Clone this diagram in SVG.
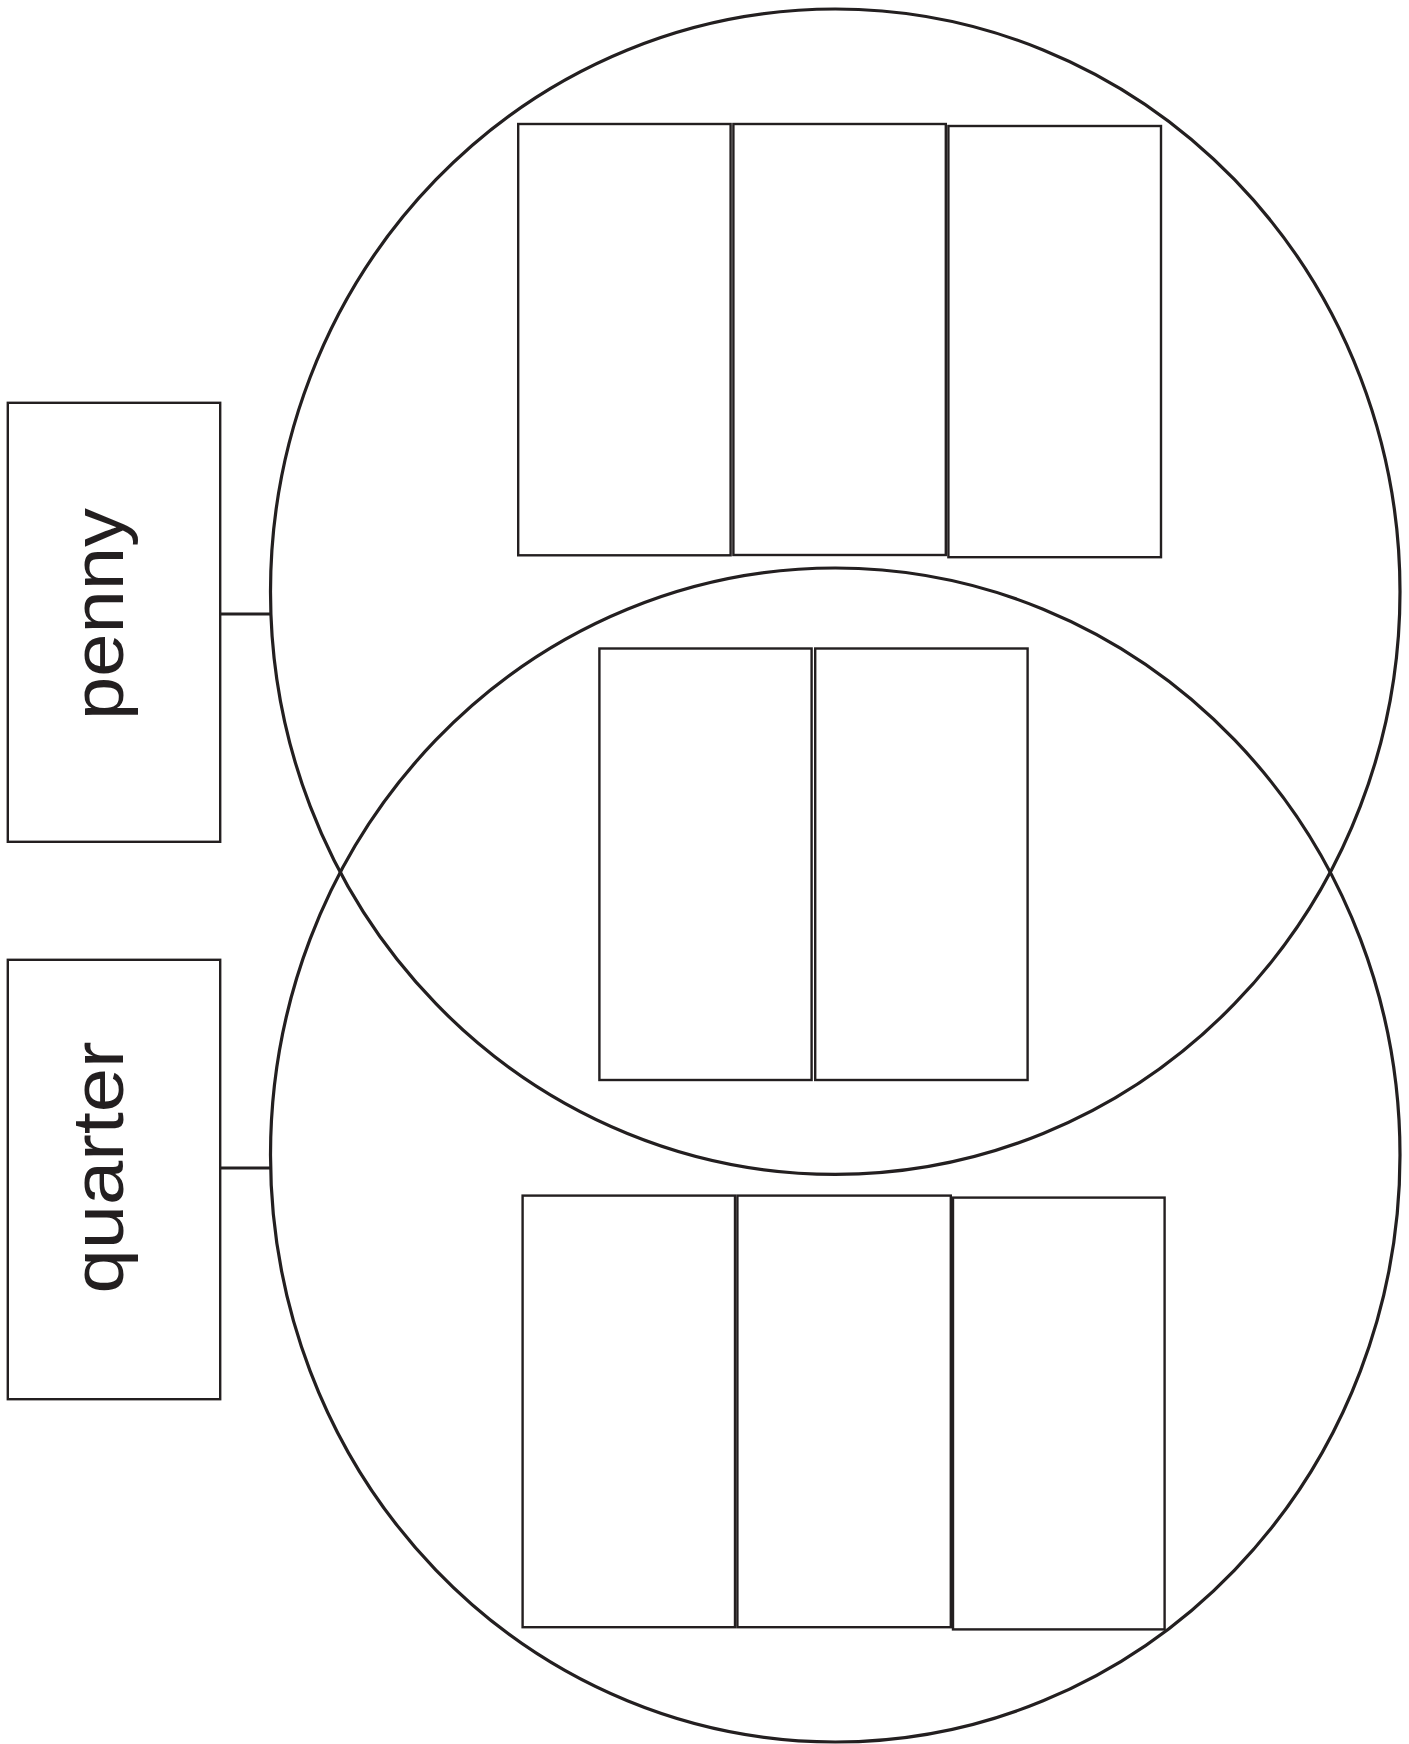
<svg xmlns="http://www.w3.org/2000/svg" width="1409" height="1744" viewBox="0 0 1409 1744">
<style>
.circle{fill:none;stroke:#231f20;stroke-width:3.2}
.box{fill:#fff;stroke:#231f20;stroke-width:2.4}
.cell{fill:none;stroke:#231f20;stroke-width:2.4}
.conn{stroke:#231f20;stroke-width:3.2;fill:none}
.label{font-family:"Liberation Sans",Arial,sans-serif;font-size:73px;fill:#231f20;text-anchor:middle}
</style>
<rect width="1409" height="1744" fill="#fff"/>
<g id="circle-penny"><ellipse class="circle" cx="835.25" cy="591.7" rx="564.75" ry="582.7"/></g>
<g id="circle-quarter"><ellipse class="circle" cx="835.25" cy="1155" rx="564.75" ry="587"/></g>
<g id="connectors">
<line class="conn" x1="220" y1="614" x2="270" y2="614"/>
<line class="conn" x1="220" y1="1168" x2="270" y2="1168"/>
</g>
<g id="node-penny">
<rect class="box" x="7.8" y="402.8" width="212.4" height="439"/>
<text class="label" x="123" y="614" transform="rotate(-90 123 614)" textLength="212" lengthAdjust="spacingAndGlyphs">penny</text>
</g>
<g id="node-quarter">
<rect class="box" x="7.8" y="959.8" width="212.4" height="439.4"/>
<text class="label" x="123" y="1167.5" transform="rotate(-90 123 1167.5)" textLength="252" lengthAdjust="spacingAndGlyphs">quarter</text>
</g>
<g id="penny-cells">
<rect class="cell" x="518.2" y="124" width="212.4" height="431.3"/>
<rect class="cell" x="733.4" y="124" width="212.4" height="431"/>
<rect class="cell" x="948.4" y="126" width="212.6" height="431.2"/>
</g>
<g id="both-cells">
<rect class="cell" x="599.4" y="648.5" width="212.2" height="431.5"/>
<rect class="cell" x="815.2" y="648.5" width="212.4" height="431.5"/>
</g>
<g id="quarter-cells">
<rect class="cell" x="522.6" y="1195.6" width="212.4" height="431.6"/>
<rect class="cell" x="737.4" y="1195.6" width="213.4" height="431.6"/>
<rect class="cell" x="953" y="1197.6" width="211.6" height="431.8"/>
</g>
</svg>
